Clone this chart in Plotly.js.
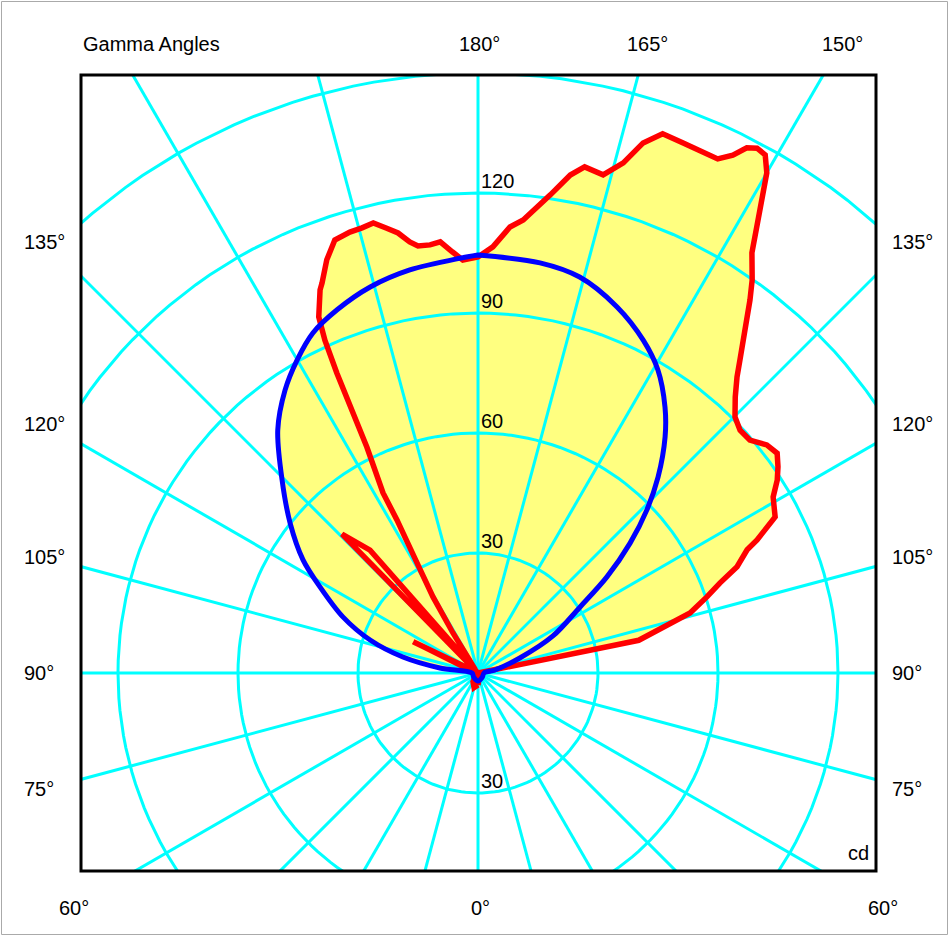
<!DOCTYPE html>
<html><head><meta charset="utf-8">
<script src="https://cdn.plot.ly/plotly-3.0.1.min.js"></script>
<style>html,body{margin:0;padding:0;background:#fff}</style>
</head><body><div id="chart" style="width:949px;height:936px"></div>
<script>
// ---- Red curve (cd), right half-plane, gamma ascending ----
const redRightGamma = [0, 10, 30, 60, 90, 100, 101.5, 104.5, 105.8, 108.4, 110.4, 112.3, 114.6, 115.5, 117.7, 120.8, 122.8, 124.5, 126.3, 128.3, 130.6, 132.8, 134.9, 137, 138.8, 140.1, 141.9, 143.9, 145.1, 146.9, 148, 148.9, 150, 151, 152, 152.9, 153.8, 155, 157, 158.9, 161.1, 162.7, 164.1, 165.9, 168.1, 169.5, 171.4, 174.3, 175.9, 178, 180];
const redRightI     = [3, 1.5, 0.5, 0.5, 0.5, 0.5, 41, 49.6, 55.1, 60.3, 64.5, 70, 74, 77.3, 83.9, 85.9, 89, 91, 92.8, 92, 89.5, 89.3, 90.7, 94.3, 98.3, 102.1, 108.1, 115.4, 119.8, 125.4, 131.5, 137.3, 144.4, 148.1, 148.6, 147.5, 144.3, 141.8, 142, 142.1, 142.5, 138.8, 132.6, 128.4, 129.3, 126.6, 120.9, 113.8, 111.8, 106.6, 104];
// ---- Red curve, left half-plane, gamma ascending ----
const redLeftGamma = [0, 15, 30, 45, 90, 114.8, 115.8, 117, 134, 135.6, 138.7, 141, 148, 149.4, 151, 152.1, 152.2, 153.8, 154.3, 154.8, 155.3, 155.9, 157.6, 158.2, 159.9, 161.7, 163.8, 165.4, 166.9, 168.4, 169.7, 171, 172, 173.6, 175, 176.5, 177.9, 179.3, 180];
const redLeftI     = [3, 3.8, 2.5, 1, 0.5, 0.5, 18, 0.5, 0.5, 48.6, 40.9, 1, 11.8, 22.1, 31.4, 43.3, 50.9, 62.9, 73.8, 82.9, 91.6, 97.5, 103.6, 105, 110, 114, 114.8, 115, 115.5, 113.5, 111.8, 109.1, 107.8, 107.7, 108.2, 105.5, 103.3, 103.8, 104];
// ---- Blue curve (cd) ----
const blueRightGamma = [0, 45, 90, 100, 109.7, 116.3, 122.9, 126.7, 130.5, 134, 137.4, 141.6, 144.9, 149.3, 153.6, 159.2, 165.6, 171.4, 180];
const blueRightI     = [2, 1.5, 1.5, 4.3, 11.1, 20.9, 30.4, 40.2, 50, 58.7, 66.5, 75.3, 81.3, 88.1, 92.9, 97.9, 102.2, 103.7, 104.5];
const blueLeftGamma = [0, 45, 90, 97.5, 102, 107, 112.5, 118.6, 122.9, 128.6, 134.6, 140.5, 145.7, 150, 154.1, 158.8, 164.4, 170.4, 177.5, 180];
const blueLeftI     = [2, 1.5, 1.5, 9.6, 19.2, 28.2, 36.5, 45, 52.1, 60.1, 68.8, 78.7, 85.6, 90.4, 94.5, 97.4, 100.2, 102.2, 103.8, 104.5];
// ---- Grid & labels ----
const gridRadii = [30, 60, 90, 120, 150];
const radialLabels = ['30', '60', '90', '120'];
const radialLabelValues = [30, 60, 90, 120];
const lowerRadialLabel = '30';
const topLabels = ['180°', '165°', '150°'];
const sideLabels = ['135°', '120°', '105°', '90°', '75°'];
const bottomLabels = ['60°', '0°', '60°'];
const cornerTitle = 'Gamma Angles';
const unitLabel = 'cd';

const D = Math.PI / 180;
function toXY(g, I, side) {
  return { x: g.map((a, i) => side * I[i] * Math.sin(a * D)), y: g.map((a, i) => -I[i] * Math.cos(a * D)) };
}
function halfPath(rg, ri, lg, li) {
  const r = toXY(rg, ri, 1), l = toXY(lg, li, -1);
  return { x: r.x.concat(l.x.slice().reverse()), y: r.y.concat(l.y.slice().reverse()) };
}
const red = halfPath(redRightGamma, redRightI, redLeftGamma, redLeftI);
const blue = halfPath(blueRightGamma, blueRightI, blueLeftGamma, blueLeftI);

// grid geometry
const gx = [], gy = [];
gridRadii.forEach(r => { for (let a = 0; a <= 360; a += 2) { gx.push(r * Math.cos(a * D)); gy.push(r * Math.sin(a * D)); } gx.push(null); gy.push(null); });
for (let a = 0; a < 360; a += 15) { gx.push(0, 220 * Math.cos(a * D), null); gy.push(0, 220 * Math.sin(a * D), null); }

const FILL = '#FFFF80';
const traces = [
  { x: red.x, y: red.y, mode: 'lines', fill: 'toself', fillcolor: FILL, line: { width: 0, color: 'rgba(0,0,0,0)' }, hoverinfo: 'skip' },
  { x: blue.x, y: blue.y, mode: 'lines', fill: 'toself', fillcolor: FILL, line: { width: 0, color: 'rgba(0,0,0,0)', shape: 'spline', smoothing: 0.9 }, hoverinfo: 'skip' },
  { x: gx, y: gy, mode: 'lines', line: { color: '#00FFFF', width: 3 }, hoverinfo: 'skip' },
  { x: red.x, y: red.y, mode: 'lines', line: { color: '#FF0000', width: 5.5 } },
  { x: blue.x, y: blue.y, mode: 'lines', line: { color: '#0000FF', width: 5, shape: 'spline', smoothing: 0.9 } }
];

// pixel helpers (plot area 81..876 x 75..871)
const L = 81, R = 876, T = 75, B = 871;
const px = v => (v - L) / (R - L);
const py = v => (B - v) / (B - T);
const F = { family: 'Liberation Sans, Arial, sans-serif', size: 20, color: '#000' };
const ann = [];
function addPaper(text, x, y, xa) { ann.push({ text, xref: 'paper', yref: 'paper', x: px(x), y: py(y), xanchor: xa || 'center', yanchor: 'middle', showarrow: false, font: F }); }
addPaper(cornerTitle, 81, 44, 'left');
const topX = [479, 647, 842];
topLabels.forEach((t, i) => addPaper(t, topX[i], 44));
const sideY = [242, 424, 557, 673, 789];
sideLabels.forEach((t, i) => { addPaper(t, 22, sideY[i], 'left'); addPaper(t, 890, sideY[i], 'left'); });
const botX = [74, 480, 883];
bottomLabels.forEach((t, i) => addPaper(t, botX[i], 908));
addPaper(unitLabel, 858, 853);
radialLabelValues.forEach((v, i) => ann.push({ text: radialLabels[i], x: 0.4, y: v, xref: 'x', yref: 'y', xanchor: 'left', yanchor: 'bottom', showarrow: false, font: F, borderpad: 0 }));
ann.push({ text: lowerRadialLabel, x: 0.4, y: -30, xref: 'x', yref: 'y', xanchor: 'left', yanchor: 'bottom', showarrow: false, font: F, borderpad: 0 });

const layout = {
  width: 949, height: 936,
  margin: { l: L, r: 949 - R, t: T, b: 936 - B },
  paper_bgcolor: '#fff', plot_bgcolor: '#fff',
  showlegend: false,
  xaxis: { range: [-99.25, 99.5], showgrid: false, zeroline: false, showticklabels: false, ticks: '', fixedrange: true },
  yaxis: { range: [-49.5, 149.5], showgrid: false, zeroline: false, showticklabels: false, ticks: '', fixedrange: true },
  shapes: [
    { type: 'rect', xref: 'paper', yref: 'paper', x0: 0, x1: 1, y0: 0, y1: 1, line: { color: '#000', width: 3 } },
    { type: 'rect', xref: 'paper', yref: 'paper', x0: px(1.5), x1: px(947.5), y0: py(934.5), y1: py(1.5), line: { color: '#aaa', width: 1 } }
  ],
  annotations: ann
};
Plotly.newPlot('chart', traces, layout, { displayModeBar: false, staticPlot: true });
</script>
</body></html>
